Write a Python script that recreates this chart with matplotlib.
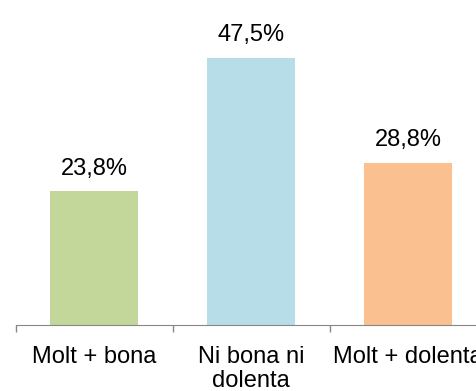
import matplotlib.pyplot as plt

plt.rcParams['font.family'] = ['Liberation Sans', 'DejaVu Sans']

# dades
categories = ['Molt + bona', 'Ni bona ni\ndolenta', 'Molt + dolenta']
values = [23.8, 47.5, 28.8]
labels = ['23,8%', '47,5%', '28,8%']
colors = ['#C4D79B', '#B7DDE8', '#FAC090']

fig = plt.figure(figsize=(4.77, 3.91), dpi=100)
# l'eix continua fora de la figura per la dreta
ax = fig.add_axes([15.7 / 477, (391 - 325) / 391, 471 / 477, 281 / 391])

x = range(len(values))
bars = ax.bar(x, values, width=0.56, color=colors)

for b, lab in zip(bars, labels):
    ax.annotate(lab, (b.get_x() + b.get_width() / 2, b.get_height()),
                xytext=(0, 12), textcoords='offset points',
                ha='center', va='baseline', fontsize=17, annotation_clip=False)

ax.set_xlim(-0.5, 2.5)
ax.set_ylim(0, 50)
ax.set_xticks([-0.5, 0.5, 1.5, 2.5])
ax.set_xticklabels([])
ax.set_xticks(list(x), minor=True)
ax.set_xticklabels(categories, minor=True, fontsize=17, linespacing=1.15)
ax.tick_params(axis='x', which='major', length=5, color='#878787', width=1)
ax.tick_params(axis='x', which='minor', length=0, pad=15)
ax.set_yticks([])

for s in ['top', 'right', 'left']:
    ax.spines[s].set_visible(False)
ax.spines['bottom'].set_color('#878787')

fig.savefig('out.png', dpi=100)
